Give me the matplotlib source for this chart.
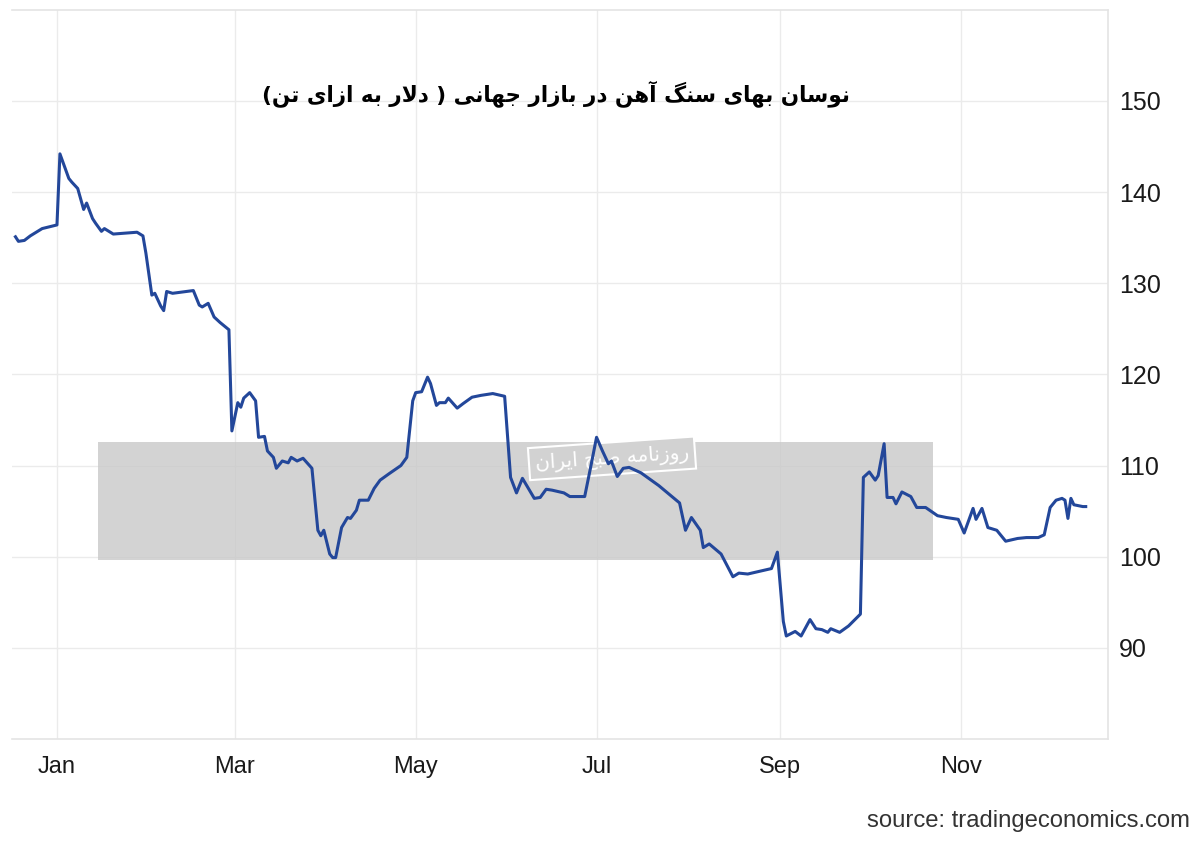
import matplotlib
matplotlib.use("Agg")
import matplotlib.pyplot as plt
import matplotlib.dates as mdates
from matplotlib.patches import Rectangle
import pandas as pd

plt.rcParams['font.family'] = ['Liberation Sans', 'DejaVu Sans']

# ------- data (iron ore, USD per tonne) -------
dates = [
    "2023-12-18", "2023-12-19", "2023-12-21", "2023-12-23", "2023-12-27", "2024-01-01",
    "2024-01-02", "2024-01-05", "2024-01-06", "2024-01-08", "2024-01-10", "2024-01-11",
    "2024-01-13", "2024-01-14", "2024-01-16", "2024-01-17", "2024-01-20", "2024-01-28",
    "2024-01-30", "2024-01-31", "2024-02-02", "2024-02-03", "2024-02-05", "2024-02-06",
    "2024-02-07", "2024-02-09", "2024-02-16", "2024-02-18", "2024-02-19", "2024-02-21",
    "2024-02-23", "2024-02-25", "2024-02-28", "2024-02-29", "2024-03-02", "2024-03-03",
    "2024-03-04", "2024-03-06", "2024-03-08", "2024-03-09", "2024-03-11", "2024-03-12",
    "2024-03-14", "2024-03-15", "2024-03-17", "2024-03-19", "2024-03-20", "2024-03-22",
    "2024-03-24", "2024-03-27", "2024-03-29", "2024-03-30", "2024-03-31", "2024-04-02",
    "2024-04-03", "2024-04-04", "2024-04-06", "2024-04-08", "2024-04-09", "2024-04-11",
    "2024-04-12", "2024-04-15", "2024-04-17", "2024-04-19", "2024-04-22", "2024-04-26",
    "2024-04-28", "2024-04-30", "2024-05-01", "2024-05-03", "2024-05-05", "2024-05-06",
    "2024-05-08", "2024-05-09", "2024-05-11", "2024-05-12", "2024-05-15", "2024-05-17",
    "2024-05-20", "2024-05-23", "2024-05-27", "2024-05-31", "2024-06-02", "2024-06-04",
    "2024-06-06", "2024-06-08", "2024-06-10", "2024-06-12", "2024-06-14", "2024-06-16",
    "2024-06-20", "2024-06-22", "2024-06-27", "2024-06-29", "2024-07-01", "2024-07-03",
    "2024-07-05", "2024-07-06", "2024-07-08", "2024-07-10", "2024-07-12", "2024-07-16",
    "2024-07-22", "2024-07-29", "2024-07-31", "2024-08-02", "2024-08-05", "2024-08-06",
    "2024-08-08", "2024-08-12", "2024-08-16", "2024-08-18", "2024-08-21", "2024-08-25",
    "2024-08-29", "2024-08-31", "2024-09-02", "2024-09-03", "2024-09-06", "2024-09-08",
    "2024-09-11", "2024-09-13", "2024-09-15", "2024-09-17", "2024-09-18", "2024-09-21",
    "2024-09-24", "2024-09-28", "2024-09-29", "2024-10-01", "2024-10-03", "2024-10-04",
    "2024-10-06", "2024-10-07", "2024-10-09", "2024-10-10", "2024-10-12", "2024-10-15",
    "2024-10-17", "2024-10-20", "2024-10-24", "2024-10-27", "2024-10-31", "2024-11-02",
    "2024-11-05", "2024-11-06", "2024-11-08", "2024-11-10", "2024-11-13", "2024-11-16",
    "2024-11-20", "2024-11-23", "2024-11-27", "2024-11-29", "2024-12-01", "2024-12-03",
    "2024-12-05", "2024-12-06", "2024-12-07", "2024-12-08", "2024-12-09", "2024-12-12",
    "2024-12-13",
]
prices = [
    135.1, 134.6, 134.7, 135.2, 136.0, 136.4,
    144.2, 141.5, 141.1, 140.4, 138.1, 138.8,
    137.1, 136.6, 135.7, 136.0, 135.4, 135.6,
    135.2, 133.3, 128.7, 128.9, 127.5, 127.0,
    129.1, 128.9, 129.2, 127.6, 127.4, 127.8,
    126.3, 125.7, 124.9, 113.8, 116.9, 116.4,
    117.4, 118.0, 117.1, 113.1, 113.2, 111.6,
    110.9, 109.7, 110.5, 110.3, 110.9, 110.5,
    110.8, 109.7, 102.9, 102.3, 102.9, 100.3,
    99.9, 99.9, 103.2, 104.3, 104.2, 105.1,
    106.2, 106.2, 107.5, 108.4, 109.1, 110.0,
    110.9, 117.1, 118.0, 118.1, 119.7, 119.0,
    116.6, 116.9, 116.9, 117.4, 116.3, 116.8,
    117.5, 117.7, 117.9, 117.6, 108.7, 107.0,
    108.6, 107.5, 106.4, 106.5, 107.4, 107.3,
    107.0, 106.6, 106.6, 109.8, 113.1, 111.6,
    110.2, 110.5, 108.8, 109.7, 109.8, 109.2,
    107.8, 105.9, 102.9, 104.3, 102.9, 101.0,
    101.4, 100.3, 97.8, 98.2, 98.1, 98.4,
    98.7, 100.5, 92.9, 91.3, 91.8, 91.3,
    93.1, 92.1, 92.0, 91.7, 92.1, 91.7,
    92.4, 93.7, 108.7, 109.3, 108.4, 108.9,
    112.4, 106.5, 106.5, 105.8, 107.1, 106.6,
    105.4, 105.4, 104.5, 104.3, 104.1, 102.6,
    105.3, 104.1, 105.3, 103.2, 102.9, 101.7,
    102.0, 102.1, 102.1, 102.4, 105.4, 106.2,
    106.4, 106.2, 104.2, 106.4, 105.7, 105.5,
    105.5,
]
month_ticks = ["2024-01-01", "2024-03-01", "2024-05-01", "2024-07-01", "2024-09-01", "2024-11-01"]
y_ticks = [90, 100, 110, 120, 130, 140, 150]

title_fa = "نوسان بهای سنگ آهن در بازار جهانی ( دلار به ازای تن)"
stamp_fa = "روزنامه صبح ایران"
source_txt = "source: tradingeconomics.com"


# ------- tiny persian shaper (no reshaper lib here) -------
FORMS = {  # isolated, final, initial, medial
    'ا': ('\uFE8D', '\uFE8E'), 'آ': ('\uFE81', '\uFE82'),
    'د': ('\uFEA9', '\uFEAA'), 'ر': ('\uFEAD', '\uFEAE'),
    'ز': ('\uFEAF', '\uFEB0'), 'و': ('\uFEED', '\uFEEE'),
    'ب': ('\uFE8F', '\uFE90', '\uFE91', '\uFE92'),
    'ت': ('\uFE95', '\uFE96', '\uFE97', '\uFE98'),
    'ج': ('\uFE9D', '\uFE9E', '\uFE9F', '\uFEA0'),
    'ح': ('\uFEA1', '\uFEA2', '\uFEA3', '\uFEA4'),
    'س': ('\uFEB1', '\uFEB2', '\uFEB3', '\uFEB4'),
    'ص': ('\uFEB9', '\uFEBA', '\uFEBB', '\uFEBC'),
    'ل': ('\uFEDD', '\uFEDE', '\uFEDF', '\uFEE0'),
    'م': ('\uFEE1', '\uFEE2', '\uFEE3', '\uFEE4'),
    'ن': ('\uFEE5', '\uFEE6', '\uFEE7', '\uFEE8'),
    'ه': ('\uFEE9', '\uFEEA', '\uFEEB', '\uFEEC'),
    'ی': ('\uFBFC', '\uFBFD', '\uFBFE', '\uFBFF'),
    'گ': ('\uFB92', '\uFB93', '\uFB94', '\uFB95'),
}

def fa(text):
    out = []
    i = 0
    while i < len(text):
        c = text[i]
        if c not in FORMS:
            out.append({'(': ')', ')': '('}.get(c, c))
            i += 1
            continue
        prev = text[i - 1] if i > 0 else ''
        joins_prev = prev in FORMS and len(FORMS[prev]) == 4
        nxt = text[i + 1] if i + 1 < len(text) else ''
        if c == 'ل' and nxt == 'ا':
            out.append('\uFEFC' if joins_prev else '\uFEFB')
            i += 2
            continue
        joins_next = len(FORMS[c]) == 4 and nxt in FORMS
        f = FORMS[c]
        if joins_prev and joins_next:
            out.append(f[3])
        elif joins_prev:
            out.append(f[1])
        elif joins_next:
            out.append(f[2])
        else:
            out.append(f[0])
        i += 1
    return ''.join(out[::-1])


# ------- plotting -------
fig = plt.figure(figsize=(12, 8.41), dpi=100)
ax = fig.add_axes([0.01, 0.1213, 0.9133, 0.867])

x = pd.to_datetime(dates)

# watermark band
ax.add_patch(Rectangle((0.0817, 0.334), 0.696, 0.1403, transform=fig.transFigure,
                       facecolor='#c9c9c9', alpha=0.8, edgecolor='none', zorder=1))
ax.text(0.510, 0.455, fa(stamp_fa), transform=fig.transFigure, family='DejaVu Sans',
        fontsize=14.5, color='white', ha='center', va='center', rotation=4, zorder=2,
        bbox=dict(boxstyle='square,pad=0.3', facecolor='#d2d2d2', edgecolor='white', lw=1.5))

ax.plot(x, prices, color='#23479a', lw=2.2, zorder=3)

ax.set_ylim(80, 160)
ax.set_xlim(pd.Timestamp("2023-12-16 20:00"), pd.Timestamp("2024-12-20 12:00"))
ax.set_yticks(y_ticks)
ax.set_xticks(pd.to_datetime(month_ticks))
ax.xaxis.set_major_formatter(mdates.DateFormatter('%b'))
ax.yaxis.tick_right()
ax.tick_params(axis='y', length=0, pad=8, labelsize=18, labelcolor='#1a1a1a')
ax.tick_params(axis='x', length=0, pad=12, labelsize=17, labelcolor='#1a1a1a')
ax.grid(True, color='#ebebeb', lw=1)
ax.set_axisbelow(True)
ax.spines['left'].set_visible(False)
for s in ['top', 'right', 'bottom']:
    ax.spines[s].set_color('#e4e4e4')
    ax.spines[s].set_linewidth(1.2)

fig.text(0.4635, 0.889, fa(title_fa), family='DejaVu Sans', fontweight='bold',
         fontsize=15.5, ha='center', va='center', color='black')
fig.text(0.992, 0.024, source_txt, ha='right', va='center', fontsize=17.2, color='#333333')

fig.savefig('out.png', dpi=100, facecolor='white')
